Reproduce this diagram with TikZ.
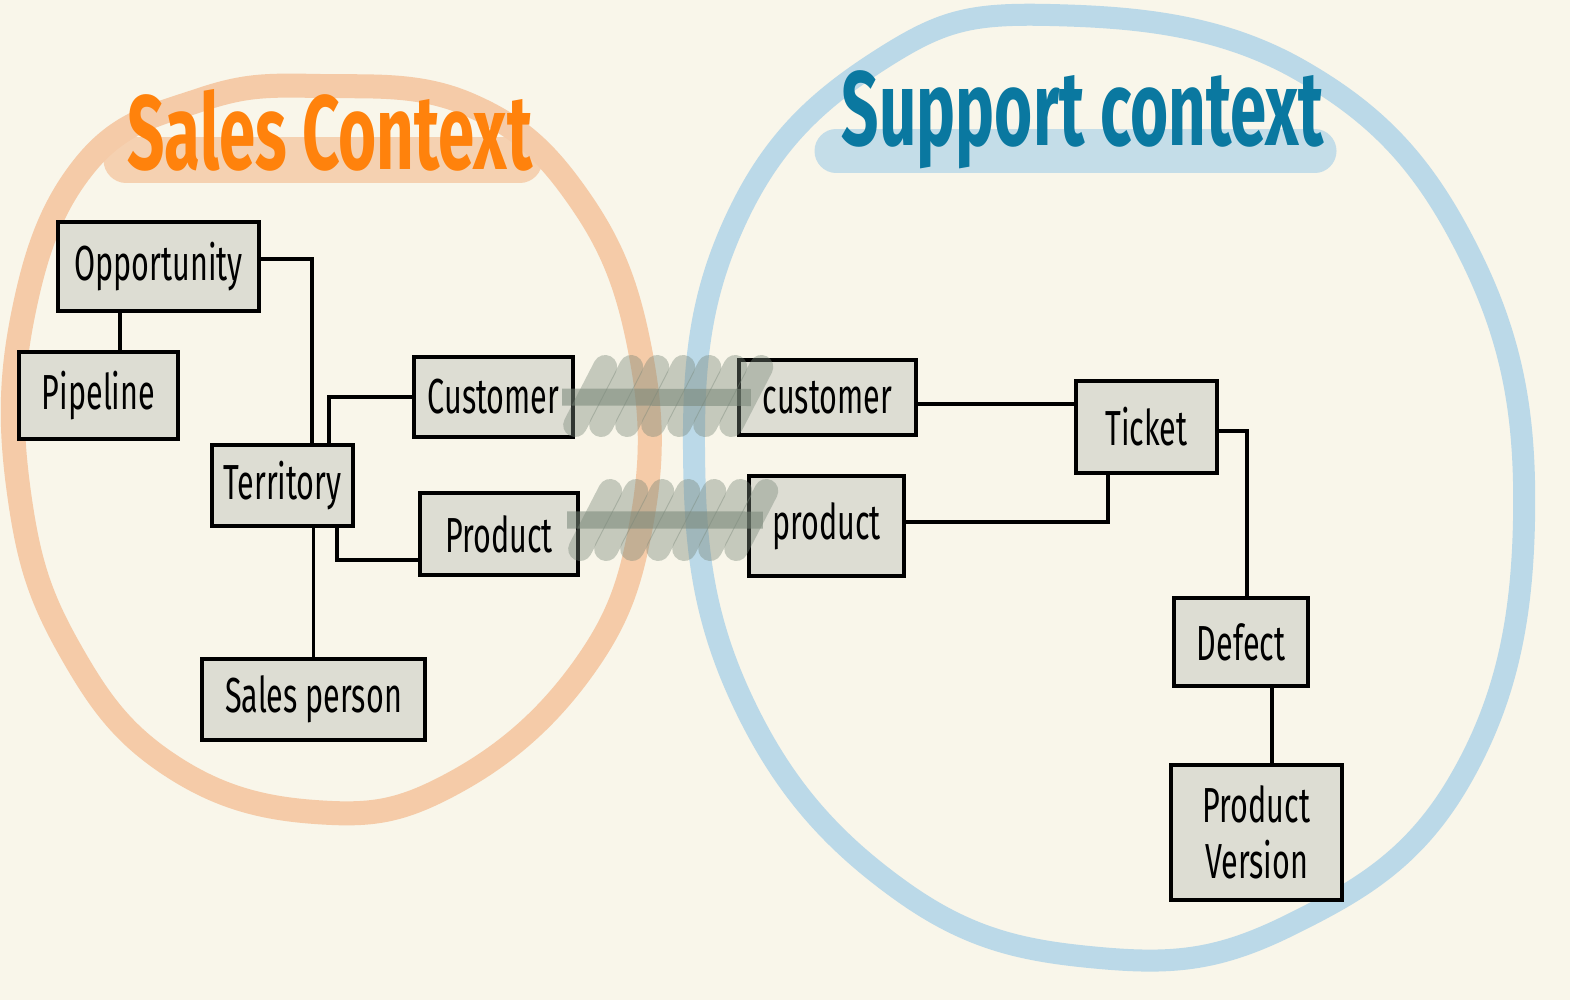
\documentclass[tikz,border=0pt]{standalone}
\usepackage{xcolor}
\usepackage{fontspec}
\setmainfont{Fira Sans}[FakeStretch=0.62]
\usepackage{tikz}
\usetikzlibrary{calc}

\begin{document}
\begin{tikzpicture}[x=0.01cm, y=-0.01cm, thick,
    every node/.style={align=center, inner sep=0pt},
    entity/.style={draw=black, line width=1.2pt, fill=boxbg, font=\fontsize{14}{16}\selectfont},
    link/.style={draw=black, line width=1pt},
    ring/.style={line width=0.24cm, line join=round},
    titlebar/.style={line width=0.45cm, line cap=round, opacity=0.85},
    bridge/.style={draw=bridgegray, opacity=0.55, line width=0.17cm},
    bridgestroke/.style={draw=bridgegray, opacity=0.4, line width=0.24cm, line cap=round}]
      \definecolor{bgcream}{RGB}{249,246,234} \definecolor{boxbg}{RGB}{221,221,211}
      \definecolor{salesring}{RGB}{245,203,168} \definecolor{salesink}{RGB}{255,130,12}
      \definecolor{supring}{RGB}{187,217,232} \definecolor{supink}{RGB}{10,120,160}
      \definecolor{bridgegray}{RGB}{120,134,120}
      \useasboundingbox (0,0) rectangle (1570,1000);
      \fill[bgcream] (0,0) rectangle (1570,1000);

      % the two contexts
      \draw[ring, salesring] plot[smooth cycle, tension=0.7] coordinates {(320,86) (470,105) (580,200) (640,350) (642,520) (582,670) (450,785) (315,812) (170,765) (70,650) (20,500) (22,320) (85,165) (200,100)};
      \draw[ring, supring, line width=0.22cm] plot[smooth cycle, tension=0.7] coordinates {(1050,15) (1300,70) (1470,255) (1524,520) (1460,780) (1290,925) (1100,958) (900,890) (742,700) (694,450) (738,215) (880,60)};
      \draw[titlebar, salesring] (126,160) -- (520,160);
      \draw[titlebar, supring, line width=0.43cm] (836,151) -- (1315,151);
      \node[text=salesink, font=\fontsize{30}{32}\selectfont\bfseries] (salesT) at (330,130) {Sales Context};
      \node[text=supink, font=\fontsize{30}{32}\selectfont\bfseries] (supT) at (1083,120) {Support context};

      % sales context
      \node[entity, minimum width=2.01cm, minimum height=0.89cm] (opp) at (158.5,266.5) {Opportunity};
      \node[entity, minimum width=1.59cm, minimum height=0.87cm] (pipe) at (98.5,395.5) {Pipeline};
      \node[entity, minimum width=1.41cm, minimum height=0.81cm] (terr) at (282.5,485.5) {Territory};
      \node[entity, minimum width=1.59cm, minimum height=0.80cm] (scust) at (493.5,397) {Customer};
      \node[entity, minimum width=1.58cm, minimum height=0.82cm] (sprod) at (499,534) {Product};
      \node[entity, minimum width=2.23cm, minimum height=0.81cm] (sperson) at (313.5,699.5) {Sales person};

      \draw[link] ([xshift=0.215cm]pipe.north) -- ([xshift=0.215cm]pipe.north |- opp.south);
      \draw[link] ([yshift=0.075cm]opp.east) -| ([xshift=0.295cm]terr.north);
      \draw[link] ([xshift=0.465cm]terr.north) |- (scust.west);
      \draw[link] ([xshift=0.545cm]terr.south) |- ([yshift=-0.26cm]sprod.west);
      \draw[link] (terr.south -| sperson.north) -- (sperson.north);

      % support context
      \node[entity, minimum width=1.77cm, minimum height=0.75cm] (ccust) at (827.5,397.5) {customer};
      \node[entity, minimum width=1.55cm, minimum height=1.00cm] (cprod) at (826.5,526) {product};
      \node[entity, minimum width=1.41cm, minimum height=0.92cm] (ticket) at (1146.5,427) {Ticket};
      \node[entity, minimum width=1.34cm, minimum height=0.88cm] (defect) at (1241,642) {Defect};
      \node[entity, minimum width=1.71cm, minimum height=1.35cm] (pver) at (1256.5,832.5) {Product\\Version};

      \draw[link] ([yshift=-0.065cm]ccust.east) -- ([yshift=-0.065cm]ccust.east -| ticket.west);
      \draw[link] ([yshift=0.04cm]cprod.east) -| ([xshift=-0.385cm]ticket.south);
      \draw[link] ([yshift=-0.04cm]ticket.east) -| ([xshift=0.06cm]defect.north);
      \draw[link] ([xshift=0.31cm]defect.south) -- ([xshift=0.31cm]defect.south |- pver.north);

      % shared concepts across the boundary
      \draw[bridge] ([xshift=-0.13cm]scust.east) -- ([xshift=0.14cm]ccust.west);
      \foreach \i in {0,...,6}
        \draw[bridgestroke] ($(scust.east)+(0.0cm+\i*0.26cm,-0.28cm)$) -- ++(0.3cm,0.58cm);
      \draw[bridge] ([shift={(-0.13cm,0.14cm)}]sprod.east) -- ([shift={(0.16cm,0.06cm)}]cprod.west);
      \foreach \i in {0,...,6}
        \draw[bridgestroke] ($(sprod.east)+(0.0cm+\i*0.26cm,-0.15cm)$) -- ++(0.3cm,0.58cm);
    \end{tikzpicture}
\end{document}
